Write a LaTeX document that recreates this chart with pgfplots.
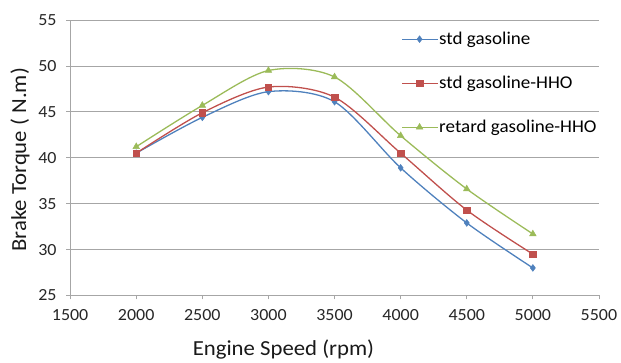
\documentclass[border=0pt]{standalone}
\usepackage{pgfplots}
\pgfplotsset{compat=1.18}
\usepackage{fontspec}
\setmainfont{Carlito}[FakeStretch=1.06]
\definecolor{cblue}{HTML}{4F81BD}
\definecolor{cred}{HTML}{C0504D}
\definecolor{cgreen}{HTML}{9BBB59}
\definecolor{gridc}{HTML}{A6A6A6}
\begin{document}
\begin{tikzpicture}
\begin{axis}[
  scale only axis,
  width=528bp, height=275bp,
  xmin=1500, xmax=5500, ymin=25, ymax=55,
  xtick={1500,2000,...,5500},
  ytick={25,30,...,55},
  axis x line*=bottom, axis y line*=left,
  axis line style={gridc, line width=0.8pt},
  tick style={gridc, line width=0.8pt},
  tick align=outside,
  major tick length=4bp,
  ymajorgrids,
  grid style={gridc, line width=0.8pt},
  /pgf/number format/assume math mode=true,
  /pgf/number format/set thousands separator={},
  tick label style={font=\fontsize{17}{19}\selectfont, text=black!85},
  xticklabel style={yshift=-6bp},
  yticklabel style={xshift=-6bp},
  xlabel={Engine Speed (rpm)},
  ylabel={Brake Torque ( N.m)},
  label style={font=\fontsize{21.5}{24}\selectfont, text=black!90},
  xlabel style={at={(rel axis cs:0.5,0)}, anchor=base, yshift=-60bp, xshift=-51bp},
  ylabel style={at={(rel axis cs:0,0.5)}, anchor=center, yshift=50bp, xshift=-2bp},
  legend style={draw=none, fill=none, at={(rel axis cs:0.626,0.962)}, anchor=north west,
    font=\fontsize{18}{21}\selectfont, row sep=27bp, inner sep=0pt, nodes={inner sep=1.5bp}},
  legend cell align=left,
  legend image code/.code={\draw[#1] (0bp,0bp) -- (35bp,0bp); \draw[#1, mark repeat=2, mark phase=2] plot coordinates {(0bp,0bp) (17.5bp,0bp) (35bp,0bp)};},
  every axis plot/.append style={line width=1.3pt, smooth, tension=0.5},
]
\addplot[cblue, mark=diamond*, mark size=3.4pt, mark options={solid, fill=cblue, line width=0.5pt}] coordinates {
(2000,40.5) (2500,44.4) (3000,47.2) (3500,46.1) (4000,38.9) (4500,32.9) (5000,28.0)};
\addlegendentry{std gasoline}
\addplot[cred, mark=square*, mark size=3.3pt, mark options={solid, fill=cred, line width=0.5pt}] coordinates {
(2000,40.5) (2500,44.9) (3000,47.7) (3500,46.6) (4000,40.5) (4500,34.3) (5000,29.5)};
\addlegendentry{std gasoline-HHO}
\addplot[cgreen, mark=triangle*, mark size=3.8pt, mark options={solid, fill=cgreen, line width=0.5pt}] coordinates {
(2000,41.2) (2500,45.7) (3000,49.5) (3500,48.8) (4000,42.4) (4500,36.6) (5000,31.7)};
\addlegendentry{retard gasoline-HHO}
\draw[black!65, line width=0.9pt] (rel axis cs:1,0) -- (rel axis cs:1,1);
\end{axis}
\path (current axis.south west) ++(-70bp,-65bp) coordinate (bbA);
\path (current axis.north east) ++(22bp,20bp) coordinate (bbB);
\path (bbA) rectangle (bbB);
\end{tikzpicture}
\end{document}
